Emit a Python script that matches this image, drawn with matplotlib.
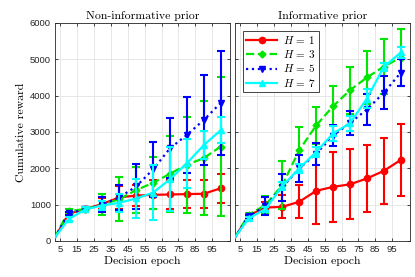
import numpy as np
import matplotlib
matplotlib.use("Agg")
import matplotlib.pyplot as plt

plt.rcParams["mathtext.fontset"] = "cm"

# decision epochs (first point only for the line, no marker / error bar)
epochs = [2, 10, 20, 30, 40, 50, 60, 70, 80, 90, 100]
tick_pos = [5, 15, 25, 35, 45, 55, 65, 75, 85, 95]
labels = ["$H\\,=\\,1$", "$H\\,=\\,3$", "$H\\,=\\,5$", "$H\\,=\\,7$"]

# Non-informative prior: means and error half-widths
non_h1 = [100, 750, 880, 1020, 1200, 1250, 1270, 1280, 1290, 1300, 1450]
non_h1_err = [50, 50, 150, 310, 300, 400, 390, 390, 380, 400]
non_h3 = [100, 820, 880, 1000, 1150, 1400, 1600, 1850, 2100, 2280, 2600]
non_h3_err = [50, 60, 290, 600, 640, 720, 1040, 1320, 1570, 1920]
non_h5 = [100, 760, 870, 1000, 1200, 1500, 1970, 2550, 2920, 3330, 3800]
non_h5_err = [40, 60, 200, 350, 620, 750, 830, 1050, 1250, 1430]
non_h7 = [100, 600, 870, 980, 1050, 1170, 1330, 1700, 2140, 2640, 3050]
non_h7_err = [50, 60, 120, 250, 540, 750, 880, 680, 380, 350]

# Informative prior
inf_h1 = [100, 700, 920, 940, 1080, 1380, 1490, 1560, 1720, 1930, 2230]
inf_h1_err = [40, 150, 320, 450, 920, 960, 960, 920, 900, 990]
inf_h3 = [100, 720, 990, 1540, 2500, 3180, 3710, 4150, 4500, 4800, 5050]
inf_h3_err = [40, 250, 650, 630, 500, 550, 650, 720, 750, 780]
inf_h5 = [100, 680, 960, 1480, 2000, 2400, 2900, 3250, 3620, 4080, 4630]
inf_h5_err = [40, 250, 370, 370, 300, 280, 330, 420, 460, 370]
inf_h7 = [100, 620, 880, 1510, 2000, 2450, 2960, 3240, 3920, 4790, 5190]
inf_h7_err = [40, 60, 100, 120, 150, 200, 200, 250, 100, 150]

colors = ["#ff0000", "#00e600", "#0000ff", "#00ffff"]
styles = ["-", "--", ":", "-"]
markers = ["o", "D", "v", "^"]
msizes = [4.5, 3.5, 5, 5]


def draw_panel(ax, series, title):
    for i, (mean, err) in enumerate(series):
        ax.plot(epochs, mean, color=colors[i], ls=styles[i], lw=1.6,
                zorder=2 + i, label=labels[i],
                marker=markers[i], ms=msizes[i], markevery=list(range(1, len(epochs))))
        ax.errorbar(epochs[1:], mean[1:], yerr=err, fmt="none", ecolor=colors[i],
                    elinewidth=1.5, capsize=3.2, capthick=1.5, zorder=2 + i)
    ax.set_xlim(2, 105.5)
    ax.set_ylim(0, 6000)
    ax.set_xticks(tick_pos)
    ax.set_yticks(range(0, 7000, 1000))
    ax.grid(True, color="#e3e3e3", lw=0.6)
    ax.set_axisbelow(True)
    ax.tick_params(direction="in", length=2.5, width=0.6, top=True, right=True,
                   labelsize=6.8, colors="#262626", pad=3)
    for lbl in ax.get_xticklabels() + ax.get_yticklabels():
        lbl.set_family("Liberation Sans")
    for sp in ax.spines.values():
        sp.set_color("#262626")
        sp.set_linewidth(0.6)
    ax.set_title(title, family="cmr10", fontsize=8.5, pad=3)
    ax.set_xlabel("Decision epoch", family="cmr10", fontsize=8.5, labelpad=1)


fig = plt.figure(figsize=(4.15, 2.77), dpi=100)
ax1 = fig.add_axes([0.1325, 0.130, 0.4217, 0.787])
ax2 = fig.add_axes([0.5663, 0.130, 0.4217, 0.787])

draw_panel(ax1, [(non_h1, non_h1_err), (non_h3, non_h3_err),
                 (non_h5, non_h5_err), (non_h7, non_h7_err)], "Non-informative prior")
draw_panel(ax2, [(inf_h1, inf_h1_err), (inf_h3, inf_h3_err),
                 (inf_h5, inf_h5_err), (inf_h7, inf_h7_err)], "Informative prior")

ax1.set_ylabel("Cumulative reward", family="cmr10", fontsize=8.5, labelpad=3)
ax2.set_yticklabels([])

leg = ax2.legend(loc="upper left", bbox_to_anchor=(0.045, 0.965), borderaxespad=0,
                 fontsize=8, handlelength=2.8, fancybox=False, framealpha=1,
                 edgecolor="#262626", borderpad=0.3, labelspacing=0.2,
                 handletextpad=0.5)
leg.get_frame().set_linewidth(0.6)

fig.savefig("out.png", dpi=100, facecolor="white")
